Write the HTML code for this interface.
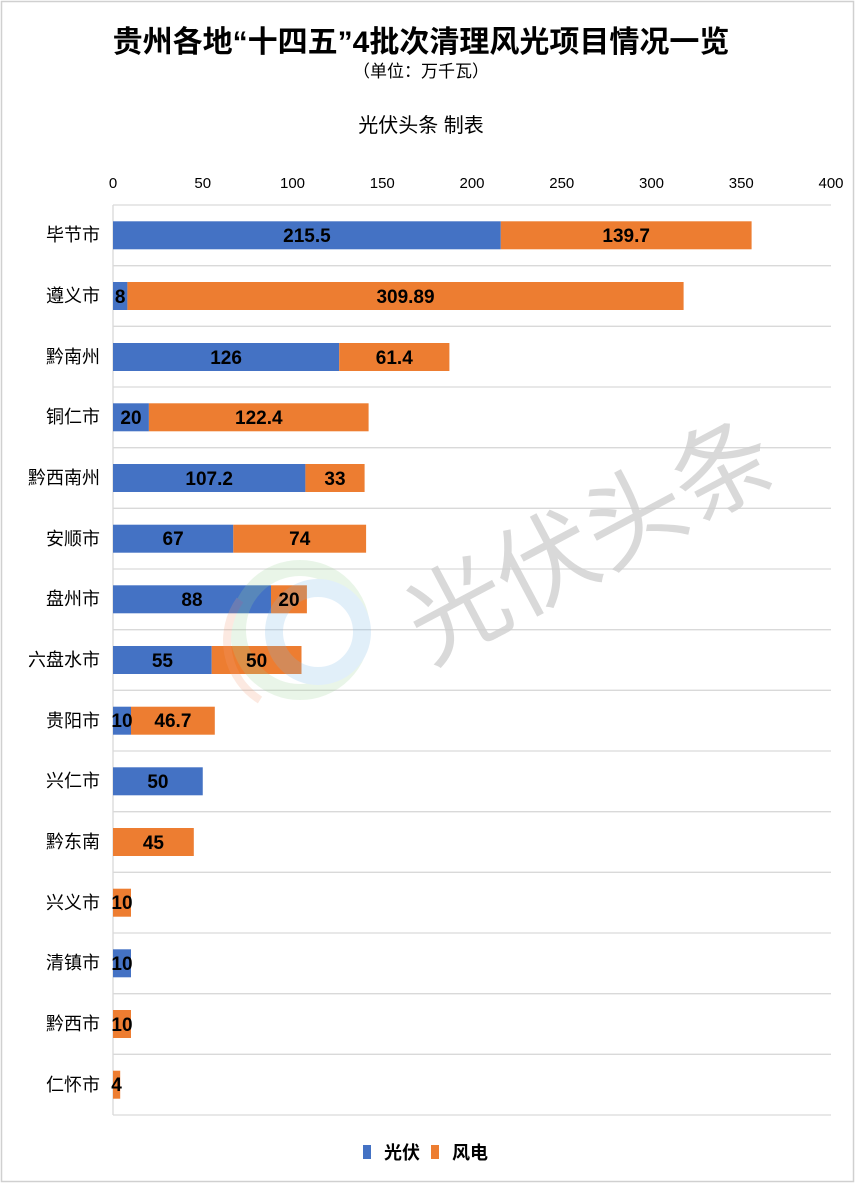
<!DOCTYPE html>
<html><head><meta charset="utf-8"><style>
html,body{margin:0;padding:0;background:#fff}
svg{display:block}
text{font-family:"Liberation Sans Narrow","Liberation Sans","Noto Sans CJK SC",sans-serif}
.c{font-family:"Liberation Sans","Noto Sans CJK SC",sans-serif}
.v{font-size:19px;font-weight:bold;fill:#000;text-anchor:middle}
.t{font-size:15px;fill:#000;text-anchor:middle}
.cat{font-size:18px;fill:#000;text-anchor:end;font-family:"Liberation Sans","Noto Sans CJK SC",sans-serif}
</style></head><body>
<svg width="856" height="1194" viewBox="0 0 856 1194" xmlns="http://www.w3.org/2000/svg">
<rect x="1.5" y="1.5" width="852" height="1180" fill="#fff" stroke="#d0d0d0" stroke-width="1.5"/>
<text x="421" y="52" class="c" style="font-size:30px;font-weight:bold;text-anchor:middle">贵州各地“十四五”4批次清理风光项目情况一览</text>
<text x="421" y="77" class="c" style="font-size:17px;text-anchor:middle">（单位：万千瓦）</text>
<text x="421" y="132" class="c" style="font-size:20px;text-anchor:middle">光伏头条 制表</text>
<g class="t">
<text x="113" y="188">0</text><text x="202.75" y="188">50</text><text x="292.5" y="188">100</text><text x="382.25" y="188">150</text><text x="472" y="188">200</text><text x="561.75" y="188">250</text><text x="651.5" y="188">300</text><text x="741.25" y="188">350</text><text x="831" y="188">400</text>
</g>
<g stroke="#d9d9d9" stroke-width="1.3">
<line x1="113" y1="205" x2="831" y2="205"/><line x1="113" y1="265.7" x2="831" y2="265.7"/><line x1="113" y1="326.3" x2="831" y2="326.3"/><line x1="113" y1="387" x2="831" y2="387"/><line x1="113" y1="447.7" x2="831" y2="447.7"/><line x1="113" y1="508.3" x2="831" y2="508.3"/><line x1="113" y1="569" x2="831" y2="569"/><line x1="113" y1="629.7" x2="831" y2="629.7"/><line x1="113" y1="690.3" x2="831" y2="690.3"/><line x1="113" y1="751" x2="831" y2="751"/><line x1="113" y1="811.7" x2="831" y2="811.7"/><line x1="113" y1="872.3" x2="831" y2="872.3"/><line x1="113" y1="933" x2="831" y2="933"/><line x1="113" y1="993.7" x2="831" y2="993.7"/><line x1="113" y1="1054.3" x2="831" y2="1054.3"/><line x1="113" y1="1115" x2="831" y2="1115"/>
<line x1="113" y1="205" x2="113" y2="1115"/>
</g>
<g class="cat">
<text x="100" y="241">毕节市</text><text x="100" y="302">遵义市</text><text x="100" y="363">黔南州</text><text x="100" y="423">铜仁市</text><text x="100" y="484">黔西南州</text><text x="100" y="545">安顺市</text><text x="100" y="605">盘州市</text><text x="100" y="666">六盘水市</text><text x="100" y="727">贵阳市</text><text x="100" y="787">兴仁市</text><text x="100" y="848">黔东南</text><text x="100" y="909">兴义市</text><text x="100" y="969">清镇市</text><text x="100" y="1030">黔西市</text><text x="100" y="1091">仁怀市</text>
</g>
<g fill="#4472C4">
<rect x="113" y="221.3" width="387.8" height="28"/>
<rect x="113" y="282" width="14.4" height="28"/>
<rect x="113" y="343" width="226.2" height="28"/>
<rect x="113" y="403.3" width="35.9" height="28"/>
<rect x="113" y="464" width="192.4" height="28"/>
<rect x="113" y="524.7" width="120.3" height="28"/>
<rect x="113" y="585.3" width="158" height="28"/>
<rect x="113" y="646" width="98.7" height="28"/>
<rect x="113" y="706.7" width="18" height="28"/>
<rect x="113" y="767.3" width="89.75" height="28"/>
<rect x="113" y="949.3" width="18" height="28"/>
</g>
<g fill="#ED7D31">
<rect x="500.8" y="221.3" width="250.8" height="28"/>
<rect x="127.4" y="282" width="556.2" height="28"/>
<rect x="339.2" y="343" width="110.2" height="28"/>
<rect x="148.9" y="403.3" width="219.7" height="28"/>
<rect x="305.4" y="464" width="59.2" height="28"/>
<rect x="233.3" y="524.7" width="132.8" height="28"/>
<rect x="271" y="585.3" width="35.9" height="28"/>
<rect x="211.7" y="646" width="89.8" height="28"/>
<rect x="131" y="706.7" width="83.8" height="28"/>
<rect x="113" y="828" width="80.8" height="28"/>
<rect x="113" y="888.7" width="18" height="28"/>
<rect x="113" y="1010" width="18" height="28"/>
<rect x="113" y="1070.7" width="7.2" height="28"/>
</g>
<g opacity="0.22">
<circle cx="300" cy="630" r="62" fill="none" stroke="#9fd49a" stroke-width="16"/>
<circle cx="318" cy="632" r="44" fill="none" stroke="#7ab8e8" stroke-width="18"/>
<path d="M240 600 A70 70 0 0 0 260 700" fill="none" stroke="#f2a07a" stroke-width="8"/>
</g>
<text x="590" y="575" transform="rotate(-28 590 540)" class="c" style="font-size:100px;fill:#d0d0d0;opacity:0.8;text-anchor:middle">光伏头条</text>
<g class="v">
<text x="306.9" y="242">215.5</text><text x="626.2" y="242">139.7</text>
<text x="120.2" y="303">8</text><text x="405.5" y="303">309.89</text>
<text x="226.1" y="364">126</text><text x="394.3" y="364">61.4</text>
<text x="131" y="424">20</text><text x="258.8" y="424">122.4</text>
<text x="209.2" y="485">107.2</text><text x="335" y="485">33</text>
<text x="173.1" y="545">67</text><text x="299.7" y="545">74</text>
<text x="192" y="606">88</text><text x="289" y="606">20</text>
<text x="162.4" y="667">55</text><text x="256.6" y="667">50</text>
<text x="122" y="727">10</text><text x="172.9" y="727">46.7</text>
<text x="157.9" y="788">50</text>
<text x="153.4" y="849">45</text>
<text x="122" y="909">10</text>
<text x="122" y="970">10</text>
<text x="122" y="1031">10</text>
<text x="116.6" y="1091">4</text>
</g>
<rect x="363" y="1145" width="8" height="14" fill="#4472C4"/>
<text x="384" y="1159" class="c" style="font-size:18px;font-weight:bold">光伏</text>
<rect x="431" y="1145" width="8" height="14" fill="#ED7D31"/>
<text x="452" y="1159" class="c" style="font-size:18px;font-weight:bold">风电</text>
</svg>
</body></html>
